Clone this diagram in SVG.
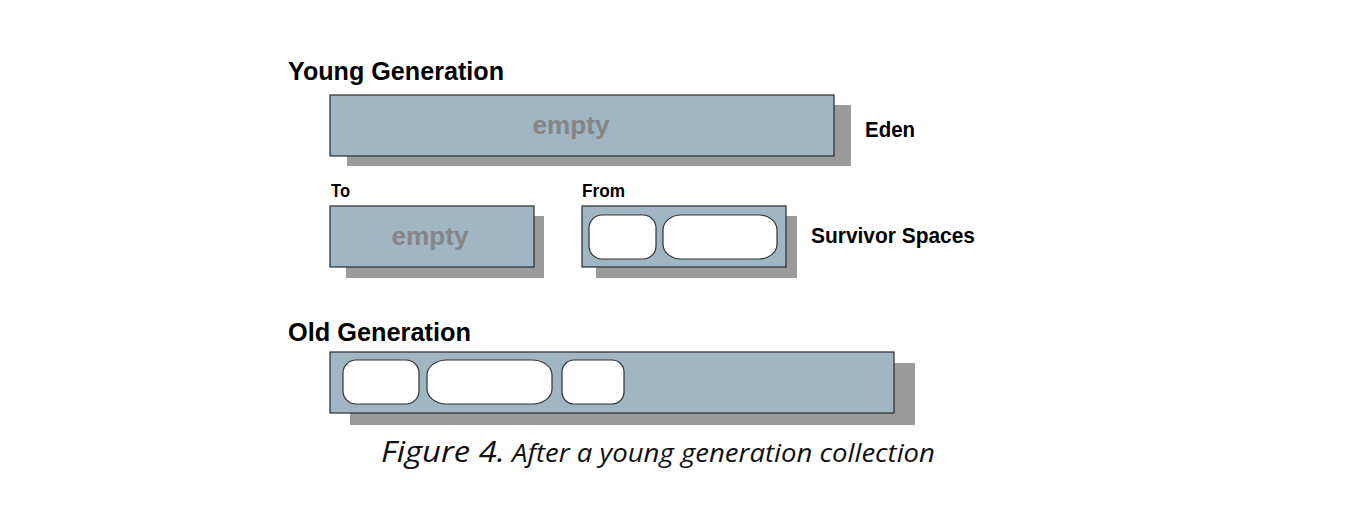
<svg xmlns="http://www.w3.org/2000/svg" width="1350" height="512" viewBox="0 0 1350 512">
<style>
.bg{fill:#ffffff}
.shadow{fill:#9b9b9b}
.box{fill:#a0b6c2;stroke:#2a2a2a;stroke-width:1.2}
.obj{fill:#ffffff;stroke:#333333;stroke-width:1.2}
.h{font-family:"Liberation Sans",Arial,sans-serif;font-weight:bold;fill:#000000}
.empty{font-family:"Liberation Sans",Arial,sans-serif;font-weight:bold;fill:#858585;font-size:26px;text-anchor:middle}
.cap{font-family:"Open Sans","Liberation Sans",sans-serif;font-style:italic;fill:#111111}
</style>
<rect class="bg" x="0" y="0" width="1350" height="512"/>
<text class="h" x="288" y="80" font-size="26" textLength="216" lengthAdjust="spacingAndGlyphs">Young Generation</text>
<g id="eden">
<rect class="shadow" x="347" y="105" width="504" height="61"/>
<rect class="box" x="330" y="95" width="504" height="61"/>
<text class="empty" x="571" y="134" textLength="77" lengthAdjust="spacingAndGlyphs">empty</text>
<text class="h" x="865" y="137" font-size="22" textLength="50" lengthAdjust="spacingAndGlyphs">Eden</text>
</g>
<g id="to">
<text class="h" x="331" y="197" font-size="18" textLength="19" lengthAdjust="spacingAndGlyphs">To</text>
<rect class="shadow" x="346" y="216" width="198" height="62"/>
<rect class="box" x="330" y="206" width="204" height="61"/>
<text class="empty" x="430" y="245" textLength="77" lengthAdjust="spacingAndGlyphs">empty</text>
</g>
<g id="from">
<text class="h" x="582" y="197" font-size="18" textLength="43" lengthAdjust="spacingAndGlyphs">From</text>
<rect class="shadow" x="596" y="216" width="201" height="62"/>
<rect class="box" x="582" y="206" width="204" height="61"/>
<rect class="obj" x="589" y="215" width="67" height="44" rx="13" ry="13"/>
<rect class="obj" x="663" y="215" width="114" height="44" rx="18" ry="15"/>
</g>
<text class="h" x="811" y="243" font-size="22" textLength="164" lengthAdjust="spacingAndGlyphs">Survivor Spaces</text>
<text class="h" x="288" y="341" font-size="26" textLength="183" lengthAdjust="spacingAndGlyphs">Old Generation</text>
<g id="old">
<rect class="shadow" x="350" y="363" width="565" height="62"/>
<rect class="box" x="330" y="352" width="564" height="61"/>
<rect class="obj" x="343" y="360" width="76" height="44" rx="13" ry="13"/>
<rect class="obj" x="427" y="360" width="125" height="44" rx="20" ry="15"/>
<rect class="obj" x="562" y="360" width="62" height="44" rx="12" ry="12"/>
</g>
<g id="connectors"></g>
<text class="cap" x="381" y="462"><tspan font-size="29" textLength="124" lengthAdjust="spacingAndGlyphs">Figure 4.</tspan><tspan x="512" font-size="25" textLength="423" lengthAdjust="spacingAndGlyphs">After a young generation collection</tspan></text>
</svg>
